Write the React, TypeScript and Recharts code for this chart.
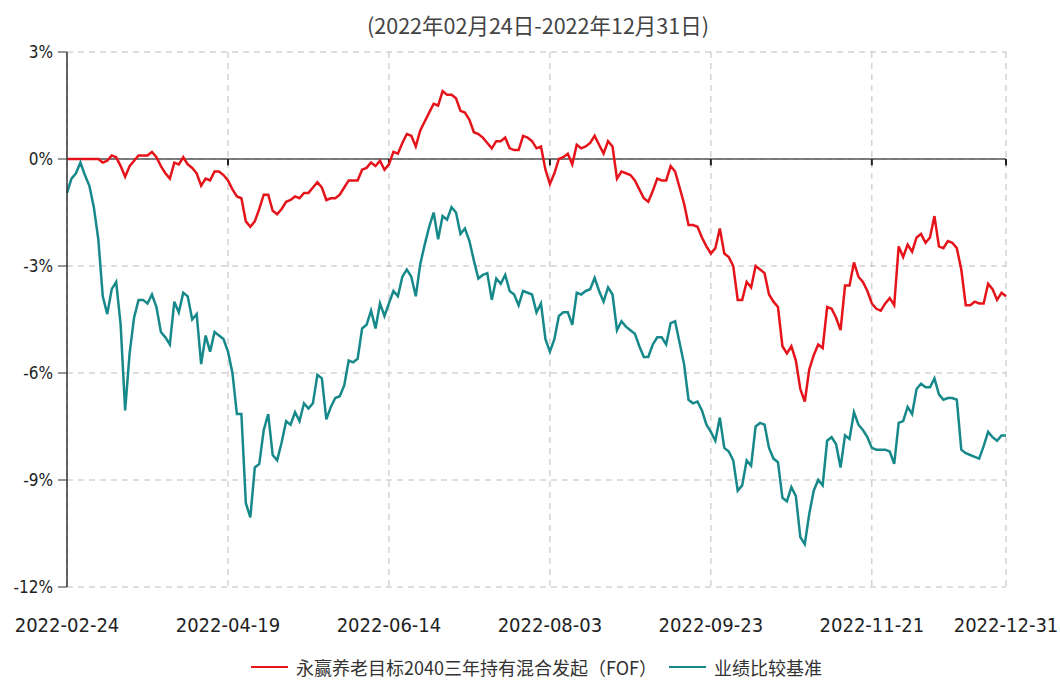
import React from 'react';
import { LineChart, Line, XAxis, YAxis, CartesianGrid, ReferenceLine } from 'recharts';

// trading-day index of each x tick, and its label
const tickDays = [0, 36, 72, 108, 144, 180, 210];
const tickLabels = ['2022-02-24', '2022-04-19', '2022-06-14', '2022-08-03', '2022-09-23', '2022-11-21', '2022-12-31'];
const yTicks = [-12, -9, -6, -3, 0, 3];

const fundName = '永赢养老目标2040三年持有混合发起（FOF）';
const benchName = '业绩比较基准';

// cumulative return (%) per trading day
const fund = [
  0, 0, 0, 0, 0, 0, 0, 0, -0.1, -0.05,
  0.1, 0.05, -0.2, -0.5, -0.2, -0.05, 0.1, 0.1, 0.1, 0.2,
  0.05, -0.2, -0.4, -0.55, -0.1, -0.15, 0.05, -0.15, -0.25, -0.4,
  -0.75, -0.55, -0.6, -0.35, -0.35, -0.45, -0.6, -0.85, -1.05, -1.1,
  -1.75, -1.9, -1.75, -1.4, -1.0, -1.0, -1.45, -1.55, -1.4, -1.2,
  -1.15, -1.05, -1.1, -0.95, -0.95, -0.8, -0.65, -0.8, -1.15, -1.1,
  -1.1, -1.0, -0.8, -0.6, -0.6, -0.6, -0.3, -0.25, -0.1, -0.2,
  -0.05, -0.3, -0.15, 0.2, 0.15, 0.45, 0.7, 0.65, 0.35, 0.8,
  1.05, 1.3, 1.55, 1.5, 1.9, 1.8, 1.8, 1.7, 1.35, 1.3,
  1.1, 0.75, 0.7, 0.6, 0.45, 0.3, 0.5, 0.5, 0.6, 0.3,
  0.25, 0.25, 0.65, 0.6, 0.5, 0.3, 0.35, -0.3, -0.7, -0.4,
  0.0, 0.05, 0.15, -0.15, 0.4, 0.3, 0.35, 0.45, 0.65, 0.4,
  0.15, 0.5, 0.35, -0.55, -0.35, -0.4, -0.45, -0.6, -0.85, -1.1,
  -1.2, -0.9, -0.55, -0.6, -0.6, -0.2, -0.35, -0.8, -1.25, -1.85,
  -1.85, -1.9, -2.2, -2.45, -2.65, -2.5, -1.95, -2.65, -2.75, -3.0,
  -3.95, -3.95, -3.45, -3.6, -3.0, -3.1, -3.2, -3.8, -4.0, -4.15,
  -5.25, -5.45, -5.25, -5.65, -6.45, -6.8, -5.9, -5.5, -5.2, -5.3,
  -4.15, -4.2, -4.45, -4.8, -3.55, -3.55, -2.9, -3.3, -3.45, -3.7,
  -4.05, -4.2, -4.25, -4.05, -3.9, -4.1, -2.45, -2.75, -2.4, -2.6,
  -2.2, -2.1, -2.35, -2.2, -1.6, -2.45, -2.5, -2.3, -2.35, -2.5,
  -3.1, -4.1, -4.1, -4.0, -4.05, -4.05, -3.5, -3.65, -3.95, -3.75,
  -3.85,
];

const bench = [
  -0.95, -0.55, -0.4, -0.1, -0.45, -0.75, -1.35, -2.25, -3.85, -4.35,
  -3.65, -3.45, -4.65, -7.05, -5.45, -4.45, -3.95, -3.95, -4.05, -3.8,
  -4.15, -4.85, -5.0, -5.2, -4.0, -4.3, -3.75, -3.85, -4.5, -4.35,
  -5.75, -4.95, -5.4, -4.85, -4.95, -5.05, -5.4, -6.0, -7.15, -7.15,
  -9.65, -10.05, -8.65, -8.55, -7.6, -7.15, -8.3, -8.45, -7.95, -7.35,
  -7.45, -7.1, -7.35, -6.85, -7.0, -6.85, -6.05, -6.15, -7.3, -6.95,
  -6.7, -6.65, -6.35, -5.65, -5.7, -5.6, -4.75, -4.65, -4.25, -4.75,
  -4.05, -4.4, -4.05, -3.7, -3.85, -3.3, -3.1, -3.3, -3.85, -2.95,
  -2.4, -1.9, -1.5, -2.25, -1.6, -1.7, -1.35, -1.5, -2.1, -1.95,
  -2.3, -2.85, -3.35, -3.25, -3.2, -3.95, -3.35, -3.5, -3.25, -3.7,
  -3.8, -4.1, -3.7, -3.75, -3.8, -4.3, -4.05, -5.05, -5.4, -5.05,
  -4.4, -4.3, -4.3, -4.65, -3.75, -3.8, -3.7, -3.65, -3.33, -3.7,
  -4.0, -3.6, -3.8, -4.8, -4.55, -4.7, -4.8, -4.9, -5.25, -5.55,
  -5.55, -5.2, -5.0, -5.0, -5.2, -4.6, -4.55, -5.15, -5.75, -6.75,
  -6.85, -6.8, -7.05, -7.45, -7.65, -7.9, -7.25, -8.1, -8.2, -8.45,
  -9.3, -9.15, -8.45, -8.6, -7.5, -7.4, -7.45, -8.1, -8.4, -8.5,
  -9.5, -9.6, -9.2, -9.45, -10.6, -10.8, -9.95, -9.3, -9.0, -9.15,
  -7.9, -7.8, -8.0, -8.65, -7.75, -7.85, -7.1, -7.45, -7.6, -7.8,
  -8.1, -8.15, -8.15, -8.15, -8.2, -8.55, -7.4, -7.35, -6.95, -7.15,
  -6.45, -6.3, -6.4, -6.4, -6.15, -6.6, -6.75, -6.7, -6.7, -6.75,
  -8.15, -8.25, -8.3, -8.35, -8.4, -8.05, -7.65, -7.8, -7.9, -7.75,
  -7.75,
];

const RED = '#e5141b';
const TEAL = '#17898a';
const FONT = '"Liberation Sans Narrow", "DejaVu Sans Condensed", "Noto Sans CJK SC", sans-serif';
const CJK = '"Noto Sans CJK SC", sans-serif';

const data = fund.map((v, i) => ({ day: i, fund: v, bench: bench[i] }));

export default function App() {
  return (
    <div style={{ position: 'absolute', left: 0, top: 0, width: 1060, height: 684, background: '#fff' }}>
      <div style={{ position: 'absolute', top: 9, left: 0, width: 1076, textAlign: 'center', fontFamily: CJK, fontSize: 21.5, color: '#444' }}>
        (2022年02月24日-2022年12月31日)
      </div>
      <LineChart width={1060} height={684} data={data} margin={{ top: 52, right: 54, bottom: 57, left: 0 }}>
        <CartesianGrid stroke="#bdbdbd" strokeDasharray="6 5" />
        <XAxis
          dataKey="day"
          type="number"
          domain={[0, 210]}
          ticks={tickDays}
          tickFormatter={(d: number) => tickLabels[tickDays.indexOf(d)]}
          axisLine={false}
          tickLine={false}
          tickSize={0}
          tickMargin={31}
          height={40}
          interval={0}
          tick={{ fill: '#222', fontSize: 20, fontFamily: FONT }}
        />
        <YAxis
          domain={[-12, 3]}
          ticks={yTicks}
          tickFormatter={(v: number) => `${v}%`}
          width={67}
          axisLine={{ stroke: '#333', strokeWidth: 1.5 }}
          tickLine={{ stroke: '#333' }}
          tickSize={9}
          tickMargin={5}
          interval={0}
          tick={{ fill: '#222', fontSize: 17, fontFamily: FONT }}
        />
        <ReferenceLine y={0} stroke="#555" strokeWidth={1.5} />
        {tickDays.slice(1).map((d) => (
          <ReferenceLine key={d} segment={[{ x: d, y: 0 }, { x: d, y: -0.18 }]} stroke="#222" strokeWidth={2} />
        ))}
        <Line type="linear" dataKey="fund" name={fundName} stroke={RED} strokeWidth={2.5} dot={false} isAnimationActive={false} />
        <Line type="linear" dataKey="bench" name={benchName} stroke={TEAL} strokeWidth={2.5} dot={false} isAnimationActive={false} />
      </LineChart>
      <div style={{ position: 'absolute', top: 654, left: 0, width: 1073, display: 'flex', justifyContent: 'center', alignItems: 'center', fontFamily: CJK, fontSize: 18, color: '#333' }}>
        <span style={{ display: 'inline-block', width: 37, height: 2, background: RED, marginRight: 8 }} />
        <span style={{ marginRight: 12 }}>{fundName}</span>
        <span style={{ display: 'inline-block', width: 37, height: 2, background: TEAL, marginRight: 8 }} />
        <span>{benchName}</span>
      </div>
    </div>
  );
}
